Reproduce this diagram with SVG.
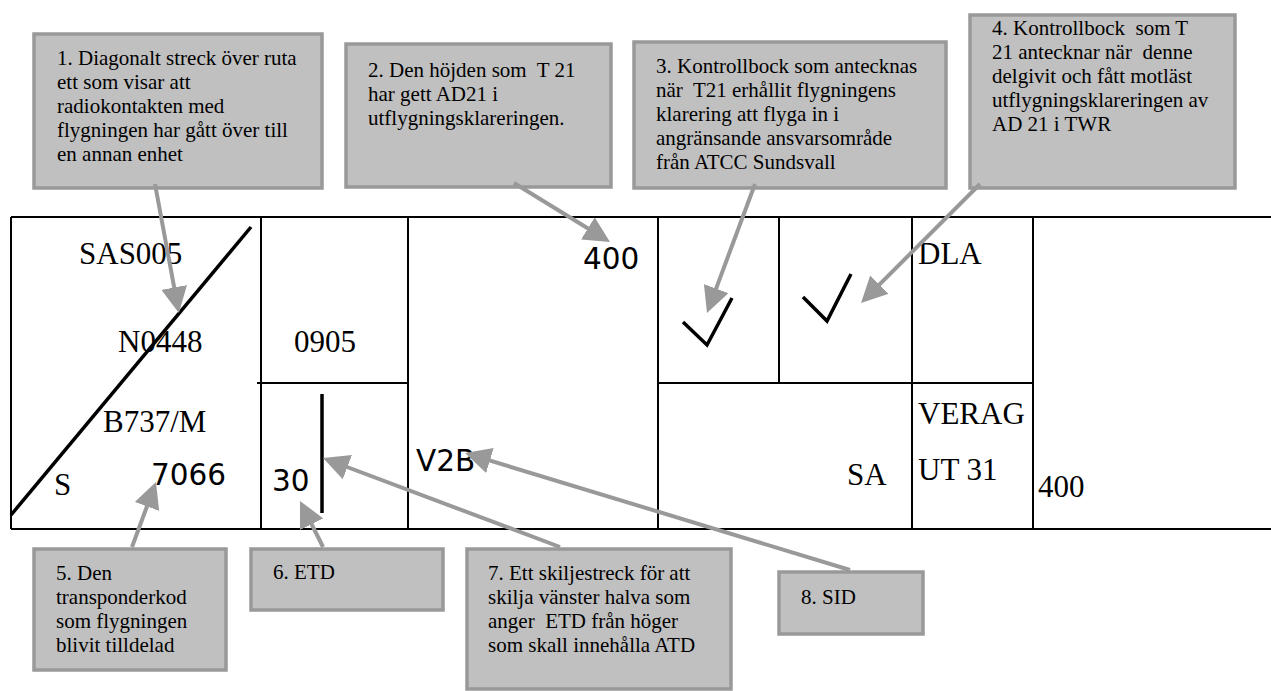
<svg xmlns="http://www.w3.org/2000/svg" width="1271" height="691" viewBox="0 0 1271 691">
<style>
.box{fill:#c0c0c0;stroke:#999999;stroke-width:3.5}
.ct{font-family:"Liberation Serif","Times New Roman",serif;font-size:21px;fill:#000;white-space:pre}
.st{font-family:"Liberation Serif","Times New Roman",serif;font-size:31px;fill:#000}
.ss{font-family:"DejaVu Sans","Liberation Sans",sans-serif;font-size:29.5px;fill:#000}
.ln{stroke:#000;stroke-width:2;fill:none}
.bk{stroke:#000;stroke-width:3.5;fill:none}
.ar{stroke:#999999;stroke-width:4;fill:none;marker-end:url(#ah)}
</style>
<defs>
<marker id="ah" markerUnits="userSpaceOnUse" markerWidth="26" markerHeight="26" refX="16" refY="13" orient="auto" viewBox="0 0 26 26">
<path d="M0,0 L26,13 L0,26 z" fill="#999999"/>
</marker>
</defs>
<rect width="1271" height="691" fill="#fff"/>

<g id="strip">
<path class="ln" d="M11,217 H1271 M11,529 H1271 M11,217 V529 M261,217 V529 M257,383 H408 M408,217 V529 M658,217 V529 M779,217 V383 M658,383 H1033 M912,217 V529 M1033,217 V529"/>
<line class="bk" x1="251" y1="227" x2="11" y2="515" stroke-width="3"/>
<line class="bk" x1="322" y1="394" x2="322" y2="513"/>
<polyline class="bk" points="683,322 707,345 732,298" stroke-width="3"/>
<polyline class="bk" points="803,297 827,321 851,274" stroke-width="3"/>
<text class="st" x="79" y="264">SAS005</text>
<text class="st" x="118" y="352">N0448</text>
<text class="st" x="294" y="352">0905</text>
<text class="st" x="103" y="432">B737/M</text>
<text class="st" x="54" y="495">S</text>
<text class="ss" x="151" y="485">7066</text>
<text class="ss" x="272" y="491">30</text>
<text class="ss" x="583" y="269">400</text>
<text class="ss" x="416" y="471">V2B</text>
<text class="st" x="847" y="485">SA</text>
<text class="st" x="918" y="264">DLA</text>
<text class="st" x="918" y="424">VERAG</text>
<text class="st" x="918" y="480">UT 31</text>
<text class="st" x="1038" y="497">400</text>
</g>

<g id="callout1">
<rect class="box" x="34" y="34" width="288" height="154"/>
<text class="ct" x="57" y="65">1. Diagonalt streck över ruta</text>
<text class="ct" x="57" y="89">ett som visar att</text>
<text class="ct" x="57" y="113">radiokontakten med</text>
<text class="ct" x="57" y="137">flygningen har gått över till</text>
<text class="ct" x="57" y="161">en annan enhet</text>
</g>
<g id="callout2">
<rect class="box" x="346" y="44" width="265" height="143"/>
<text class="ct" x="368" y="77" xml:space="preserve">2. Den höjden som  T 21</text>
<text class="ct" x="368" y="101">har gett AD21 i</text>
<text class="ct" x="368" y="125">utflygningsklareringen.</text>
</g>
<g id="callout3">
<rect class="box" x="634" y="42" width="312" height="146"/>
<text class="ct" x="656" y="73">3. Kontrollbock som antecknas</text>
<text class="ct" x="656" y="97" xml:space="preserve">när  T21 erhållit flygningens</text>
<text class="ct" x="656" y="121">klarering att flyga in i</text>
<text class="ct" x="656" y="145">angränsande ansvarsområde</text>
<text class="ct" x="656" y="169">från ATCC Sundsvall</text>
</g>
<g id="callout4">
<rect class="box" x="970" y="15" width="265" height="173"/>
<text class="ct" x="992" y="35" xml:space="preserve">4. Kontrollbock  som T</text>
<text class="ct" x="992" y="59" xml:space="preserve">21 antecknar när  denne</text>
<text class="ct" x="992" y="83">delgivit och fått motläst</text>
<text class="ct" x="992" y="107">utflygningsklareringen av</text>
<text class="ct" x="992" y="131">AD 21 i TWR</text>
</g>
<g id="callout5">
<rect class="box" x="34" y="549" width="192" height="121"/>
<text class="ct" x="56" y="580">5. Den</text>
<text class="ct" x="56" y="604">transponderkod</text>
<text class="ct" x="56" y="628">som flygningen</text>
<text class="ct" x="56" y="652">blivit tilldelad</text>
</g>
<g id="callout6">
<rect class="box" x="251" y="549" width="192" height="61"/>
<text class="ct" x="273" y="579">6. ETD</text>
</g>
<g id="callout7">
<rect class="box" x="467" y="549" width="264" height="140"/>
<text class="ct" x="488" y="580">7. Ett skiljestreck för att</text>
<text class="ct" x="488" y="604">skilja vänster halva som</text>
<text class="ct" x="488" y="628" xml:space="preserve">anger  ETD från höger</text>
<text class="ct" x="488" y="652">som skall innehålla ATD</text>
</g>
<g id="callout8">
<rect class="box" x="779" y="572" width="144" height="62"/>
<text class="ct" x="801" y="604">8. SID</text>
</g>

<g id="connectors">
<line class="ar" x1="155" y1="184" x2="177.1" y2="303.2"/>
<line class="ar" x1="514" y1="183" x2="601.5" y2="236.8"/>
<line class="ar" x1="755" y1="184" x2="710.5" y2="303.6"/>
<line class="ar" x1="980" y1="184" x2="868.1" y2="295.9"/>
<line class="ar" x1="132" y1="547" x2="152.5" y2="491.4"/>
<line class="ar" x1="323" y1="547" x2="304.5" y2="509.9"/>
<line class="ar" x1="560" y1="547" x2="332.4" y2="461.5"/>
<line class="ar" x1="850" y1="570" x2="474.6" y2="455.9"/>
</g>
</svg>
